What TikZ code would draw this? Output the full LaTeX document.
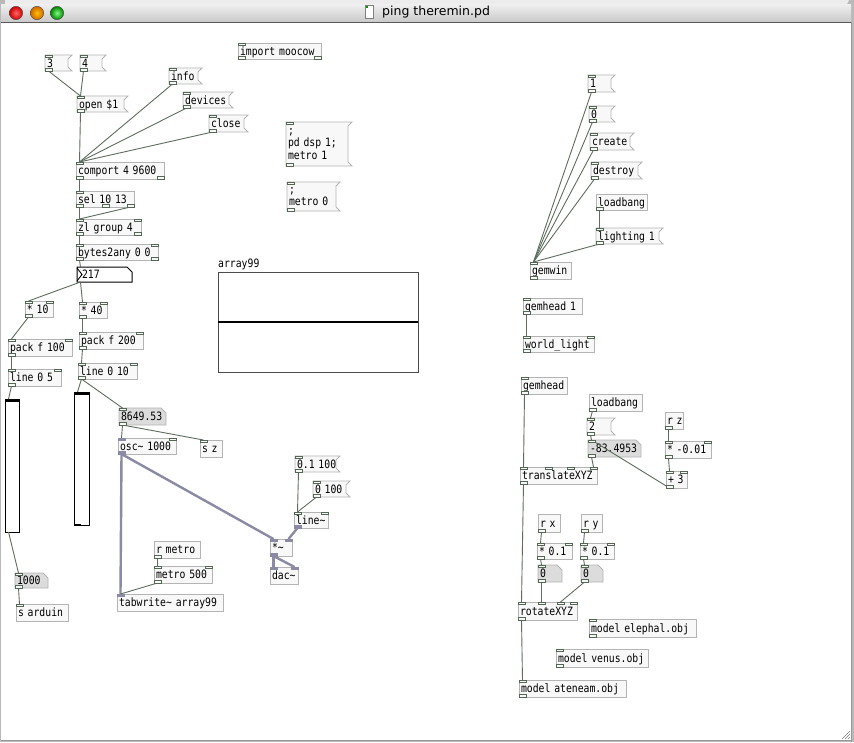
\documentclass[tikz,border=0pt]{standalone}
\usepackage{fontspec}
\newfontfamily\pdmono{DejaVu Sans Mono}[FakeStretch=0.85]
\newfontfamily\uisans{DejaVu Sans}
\usetikzlibrary{calc}
\definecolor{boxgray}{HTML}{B4B4B4}
\definecolor{boxfill}{HTML}{F8F8F8}
\definecolor{atomfill}{HTML}{DCDCDC}
\definecolor{wirecol}{HTML}{5E6E5E}
\definecolor{sigcol}{HTML}{8A8AA4}
\definecolor{iocol}{HTML}{566656}
\newcommand\pdf{\pdmono\fontsize{11.5pt}{12.5pt}\selectfont}
\tikzset{
 obox/.style={draw=boxgray, fill=boxfill, line width=0.8pt, anchor=north west, inner xsep=2pt, inner ysep=0pt, outer sep=0pt, align=left, font=\pdf, text height=9.5pt, text depth=1.5pt},
 otext/.style={anchor=north west, inner xsep=2pt, inner ysep=0pt, outer sep=0pt, align=left, font=\pdf, text height=9.5pt, text depth=1.5pt},
 otextml/.style={anchor=north west, inner xsep=2pt, inner ysep=0pt, outer sep=0pt, align=left, font=\pdf},
 mshape/.style={draw=boxgray, fill=boxfill, line width=0.8pt},
 ashape/.style={draw=boxgray, fill=atomfill, line width=0.8pt},
 io/.style={draw=iocol, fill=boxfill, line width=0.7pt},
 sio/.style={draw=sigcol, fill=sigcol, line width=0.7pt},
 ctl/.style={draw=wirecol, line width=0.9pt},
 sig/.style={draw=sigcol, line width=2.4pt},
 sliderbox/.style={draw=black, fill=white, line width=1pt, anchor=north west, inner sep=0pt, outer sep=0pt},
}
% object box: name x0 y0 x1 y1 text
\newcommand\pdobj[6]{%
  \pgfmathsetmacro\pdtw{#4-#2-4}\pgfmathsetmacro\pdth{#5-#3}%
  \node[obox,text width=\pdtw pt,minimum height=\pdth pt] (#1) at (#2,#3) {\mbox{#6}};}
% message box (x1 = flag tip)
\newcommand\pdmsg[6]{%
  \pgfmathsetmacro\pdtw{#4-#2-8}\pgfmathsetmacro\pdth{#5-#3}%
  \filldraw[mshape] (#2,#3) -- (#4,#3) -- (#4-4,#3+4) -- (#4-4,#5-4) -- (#4,#5) -- (#2,#5) -- cycle;
  \node[otext,text width=\pdtw pt,minimum height=\pdth pt] (#1) at (#2,#3) {\mbox{#6}};}
% atom box
\newcommand\pdatom[6]{%
  \pgfmathsetmacro\pdtw{#4-#2-4}\pgfmathsetmacro\pdth{#5-#3}%
  \filldraw[ashape] (#2,#3) -- (#4-5,#3) -- (#4,#3+5) -- (#4,#5) -- (#2,#5) -- cycle;
  \node[otext,text width=\pdtw pt,minimum height=\pdth pt] (#1) at (#2,#3) {\mbox{#6}};}
% inlets / outlets
\newcommand\pin[2]{\draw[io] ($(#1.north west)+(#2,0)$) rectangle ++(7,2.5);}
\newcommand\pinR[1]{\draw[io] ($(#1.north east)+(-7,0)$) rectangle ++(7,2.5);}
\newcommand\pout[2]{\draw[io] ($(#1.south west)+(#2,0)$) rectangle ++(7,-2.5);}
\newcommand\poutR[1]{\draw[io] ($(#1.south east)+(-7,0)$) rectangle ++(7,-2.5);}
\newcommand\sgin[2]{\draw[sio] ($(#1.north west)+(#2,0)$) rectangle ++(7,2.5);}
\newcommand\sginR[1]{\draw[sio] ($(#1.north east)+(-7,0)$) rectangle ++(7,2.5);}
\newcommand\sgout[2]{\draw[sio] ($(#1.south west)+(#2,0)$) rectangle ++(7,-2.5);}
% wires
\newcommand\wire[5][ctl]{\draw[#1] ($(#2)+(#3,0)$) -- ($(#4)+(#5,0)$);}
\newcommand\cw[2]{\wire{#1.south west}{3.5}{#2.north west}{3.5}}

\begin{document}
\begin{tikzpicture}[x=1pt,y=-1pt]
\useasboundingbox (0,0) rectangle (854,742);
% ---------- window chrome ----------
\fill[gray!55] (0,0) rectangle (854,742);
\fill[white] (1,22) rectangle (851,740);
\shade[top color=gray!12, bottom color=gray!42] (1,4) rectangle (851,22);
\fill[gray!15] (5,0) rectangle (847,4);
\fill[gray!15] (1,4) arc[start angle=180, end angle=90, radius=4] -- (5,4) -- cycle;
\fill[gray!15] (847,0) arc[start angle=90, end angle=0, radius=4] -- (847,4) -- cycle;
\draw[gray!70!black, line width=0.8pt] (1,22.5) -- (851,22.5);
\draw[gray!80, line width=1pt] (851.5,22) -- (851.5,742);
\draw[gray!80, line width=1pt] (1,740.5) -- (851,740.5);
\shade[inner color=red!60!white, outer color=red!80!black] (16,13) circle (6.7);
\shade[inner color=orange!50!yellow, outer color=orange!80!black] (37,13) circle (6.7);
\shade[inner color=green!50!white, outer color=green!50!black] (57,13) circle (6.7);
\draw[gray!60!black, line width=0.4pt] (16,13) circle (6.7) (37,13) circle (6.7) (57,13) circle (6.7);
\filldraw[fill=white, draw=gray] (365,5) rectangle (373,18);
\fill[green!60!black] (366,6) rectangle (368,8);
\node[font=\uisans\fontsize{12.5pt}{14pt}\selectfont, anchor=west, inner sep=0pt] (title) at (382,12.5) {ping theremin.pd};
\foreach \d in {3,6,9} \draw[gray] (851-\d,739) -- (850,739-\d+1);
% ---------- left part ----------
\pdmsg{m3}{45}{55}{72}{71}{3}
\pdmsg{m4}{80}{55}{106}{71}{4}
\pdobj{imp}{238}{43}{321}{59}{import moocow}
\pdmsg{info}{169}{68}{202}{84}{info}
\pdmsg{open}{77}{96}{128}{112}{open \$1}
\pdmsg{devices}{183}{92}{233}{108}{devices}
\pdmsg{close}{209}{115}{248}{132}{close}
% multi-line messages
\filldraw[mshape] (286,122) -- (352,122) -- (348,126) -- (348,162) -- (352,166) -- (286,166) -- cycle;
\node[otextml, text width=58pt, minimum height=44pt] (dsp) at (286,122) {;\\pd dsp 1;\\metro 1};
\filldraw[mshape] (287,182) -- (340,182) -- (336,186) -- (336,207) -- (340,211) -- (287,211) -- cycle;
\node[otextml, text width=45pt, minimum height=29pt] (met0) at (287,182) {;\\metro 0};
\pdobj{comport}{76}{162}{164}{179}{comport 4 9600}
\pdobj{sel}{76}{191}{134}{207}{sel 10 13}
\pdobj{zl}{76}{219}{141}{235}{zl group 4}
\pdobj{b2a}{76}{244}{158}{260}{bytes2any 0 0}
% number box 217
\filldraw[draw=black, fill=white, line width=1pt] (77,267) -- (127,267) -- (132,272) -- (132,282) -- (77,282) -- cycle;
\draw[black, line width=0.9pt] (77,268) -- (82,274.5) -- (77,281);
\node[otext, text width=46pt, minimum height=15pt] (n217) at (80,267) {217};
\pdobj{m10}{25}{301}{53}{317}{* 10}
\pdobj{m40}{79}{302}{107}{318}{* 40}
\pdobj{pk1}{8}{339}{72}{356}{pack f 100}
\pdobj{pk2}{79}{332}{143}{349}{pack f 200}
\pdobj{ln1}{8}{369}{61}{386}{line 0 5}
\pdobj{ln2}{78}{363}{137}{379}{line 0 10}
% sliders
\node[sliderbox, minimum width=14pt, minimum height=133pt] (sl1) at (5,399) {};
\draw[line width=2.5pt] ($(sl1.north west)+(0,2)$) -- ($(sl1.north east)+(0,2)$);
\node[sliderbox, minimum width=15pt, minimum height=133pt] (sl2) at (74,392) {};
\draw[line width=2.5pt] ($(sl2.north west)+(0,2)$) -- ($(sl2.north east)+(0,2)$);
\draw[line width=1pt] ($(sl2.south west)+(1,-1)$) -- ++(6,0);
% graph
\node[draw=black!70, line width=0.9pt, anchor=north west, inner sep=0pt, outer sep=0pt, minimum width=200pt, minimum height=100pt] (arr) at (218,272) {};
\draw[black, line width=1.2pt] (arr.west) -- (arr.east);
\node[font=\pdf, anchor=west, inner sep=0pt] (arrlbl) at (218,264) {array99};
\pdatom{a8649}{119}{408}{166}{425}{8649.53}
\pdobj{osc}{118}{438}{176}{454}{osc\textasciitilde{} 1000}
\pdobj{sz}{200}{440}{222}{457}{s z}
\pdmsg{m01}{295}{456}{340}{472}{0.1 100}
\pdmsg{m0100}{313}{481}{350}{497}{0 100}
\pdobj{linet}{294}{512}{328}{528}{line\textasciitilde}
\pdobj{mult}{270}{539}{292}{556}{*\textasciitilde}
\pdobj{dac}{270}{567}{298}{584}{dac\textasciitilde}
\pdobj{rmetro}{154}{541}{200}{558}{r metro}
\pdobj{metro}{154}{566}{212}{583}{metro 500}
\pdobj{tabw}{117}{594}{223}{611}{tabwrite\textasciitilde{} array99}
\pdatom{a1000}{15}{573}{48}{588}{1000}
\pdobj{sard}{16}{604}{68}{621}{s arduin}
% ---------- right part ----------
\pdmsg{w1}{588}{75}{615}{92}{1}
\pdmsg{w0}{589}{106}{615}{122}{0}
\pdmsg{create}{590}{133}{634}{150}{create}
\pdmsg{destroy}{591}{162}{642}{179}{destroy}
\pdobj{lb1}{596}{194}{647}{210}{loadbang}
\pdmsg{light}{596}{228}{663}{244}{lighting 1}
\pdobj{gemwin}{530}{262}{571}{279}{gemwin}
\pdobj{gh1}{523}{298}{582}{314}{gemhead 1}
\pdobj{wl}{523}{336}{594}{352}{world\_light}
\pdobj{gh}{521}{377}{567}{394}{gemhead}
\pdobj{lb2}{589}{394}{642}{411}{loadbang}
\pdmsg{m2}{587}{418}{615}{435}{2}
\pdatom{a83}{588}{440}{641}{457}{-83.4953}
\pdobj{rz}{665}{412}{683}{429}{r z}
\pdobj{mz}{665}{441}{711}{458}{* -0.01}
\pdobj{p3}{666}{471}{687}{488}{+ 3}
\pdobj{txyz}{520}{467}{597}{484}{translateXYZ}
\pdobj{rx}{538}{514}{560}{532}{r x}
\pdobj{mx}{537}{543}{572}{559}{* 0.1}
\pdatom{ax0}{538}{565}{562}{582}{0}
\pdobj{ry}{581}{514}{602}{532}{r y}
\pdobj{my}{580}{543}{614}{559}{* 0.1}
\pdatom{ay0}{581}{565}{603}{582}{0}
\pdobj{rxyz}{518}{602}{577}{620}{rotateXYZ}
\pdobj{mel}{589}{619}{696}{637}{model elephal.obj}
\pdobj{mven}{556}{649}{648}{667}{model venus.obj}
\pdobj{mat}{519}{680}{626}{697}{model ateneam.obj}
% ---------- wires ----------
\cw{m3}{open}\cw{m4}{open}\cw{open}{comport}
\cw{info}{comport}\cw{devices}{comport}\cw{close}{comport}
\cw{comport}{sel}\cw{sel}{zl}
\wire{sel.south east}{-3.5}{zl.north west}{3.5}
\cw{zl}{b2a}
\wire{b2a.south west}{3.5}{n217.north west}{0.5}
\wire{n217.south west}{0.5}{m10.north west}{3.5}
\wire{n217.south west}{0.5}{m40.north west}{3.5}
\cw{m10}{pk1}\cw{pk1}{ln1}\cw{ln1}{sl1}\cw{sl1}{a1000}\cw{a1000}{sard}
\cw{m40}{pk2}\cw{pk2}{ln2}\cw{ln2}{sl2}\cw{ln2}{a8649}
\cw{a8649}{osc}\cw{a8649}{sz}
\wire[sig]{osc.south west}{3.5}{mult.north west}{3.5}
\wire[sig]{osc.south west}{3.5}{tabw.north west}{3.5}
\cw{rmetro}{metro}\cw{metro}{tabw}
\cw{m01}{linet}\cw{m0100}{linet}
\wire[sig]{linet.south west}{3.5}{mult.north east}{-3.5}
\wire[sig]{mult.south west}{3.5}{dac.north west}{3.5}
\wire[sig]{mult.south west}{3.5}{dac.north east}{-3.5}
\cw{w1}{gemwin}\cw{w0}{gemwin}\cw{create}{gemwin}\cw{destroy}{gemwin}
\cw{lb1}{light}\cw{light}{gemwin}
\cw{gh1}{wl}
\cw{gh}{txyz}
\cw{lb2}{m2}\cw{m2}{a83}
\cw{p3}{a83}
\wire{a83.south west}{3.5}{txyz.north east}{-3.5}
\cw{rz}{mz}\cw{mz}{p3}
\cw{txyz}{rxyz}
\cw{rx}{mx}\cw{mx}{ax0}
\wire{ax0.south west}{3.5}{rxyz.north west}{23.5}
\cw{ry}{my}\cw{my}{ay0}
\wire{ay0.south west}{3.5}{rxyz.north west}{42.5}
\cw{rxyz}{mat}
% ---------- inlets / outlets ----------
\foreach \n in {m3,m4,info,open,devices,close,dsp,met0,m01,m0100,w1,w0,create,destroy,light,gemwin,gh1,gh,m2,a83,ax0,ay0,a8649,a1000,mel,mven,mat}{\pin{\n}{0}\pout{\n}{0}}
\pin{imp}{0}\pout{imp}{0}\poutR{imp}
\pin{comport}{0}\pout{comport}{0}\poutR{comport}
\pin{sel}{0}\pout{sel}{0}\pout{sel}{26}\poutR{sel}
\foreach \n in {zl,b2a}{\pin{\n}{0}\pinR{\n}\pout{\n}{0}\poutR{\n}}
\foreach \n in {m10,m40,pk1,pk2,ln1,ln2,metro,mz,p3,mx,my,wl}{\pin{\n}{0}\pinR{\n}\pout{\n}{0}}
\foreach \n in {rmetro,lb1,lb2,rz,rx,ry}{\pout{\n}{0}}
\foreach \n in {sz,sard}{\pin{\n}{0}}
\sgin{osc}{0}\pinR{osc}\sgout{osc}{0}
\pin{linet}{0}\pinR{linet}\sgout{linet}{0}
\sgin{mult}{0}\sginR{mult}\sgout{mult}{0}
\sgin{dac}{0}\sginR{dac}
\sgin{tabw}{0}
\pin{txyz}{0}\pin{txyz}{25}\pin{txyz}{47}\pinR{txyz}\pout{txyz}{0}
\pin{rxyz}{0}\pin{rxyz}{20}\pin{rxyz}{39}\pinR{rxyz}\pout{rxyz}{0}
\end{tikzpicture}
\end{document}
